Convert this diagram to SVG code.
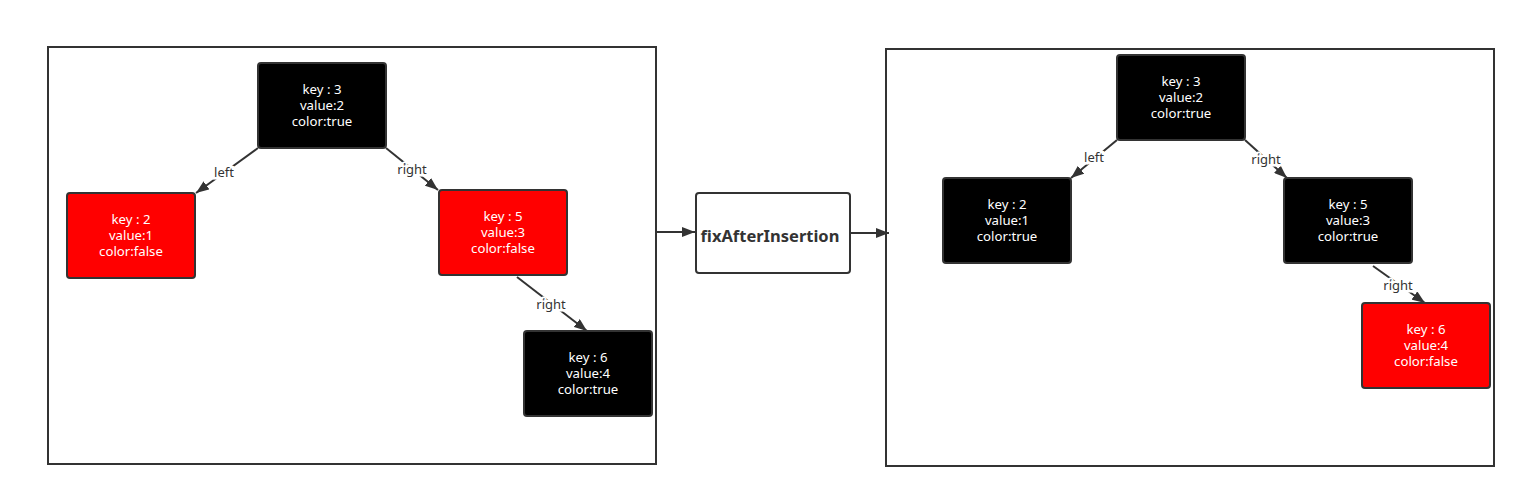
<svg xmlns="http://www.w3.org/2000/svg" width="1525" height="498" viewBox="0 0 1525 498">
<defs>
<marker id="arr" markerUnits="userSpaceOnUse" markerWidth="14" markerHeight="10" refX="13" refY="5" orient="auto">
<path d="M0,0 L13,5 L0,10 z" fill="#333"/>
</marker>
<style>
.frame{fill:#fff;stroke:#333;stroke-width:2}
.blk{fill:#000;stroke:#333;stroke-width:2}
.red{fill:#f00;stroke:#333;stroke-width:2}
.t{font-family:"Noto Sans","Open Sans",sans-serif;font-size:13.2px;fill:#fff;text-anchor:middle}
.edge{stroke:#333;stroke-width:2;fill:none;marker-end:url(#arr)}
.lbl{font-family:"Noto Sans","Open Sans",sans-serif;font-size:13px;fill:#333;text-anchor:middle;paint-order:stroke;stroke:#fff;stroke-width:5}
.fx{font-family:"Noto Sans","Open Sans",sans-serif;font-size:16.5px;font-weight:bold;fill:#333;text-anchor:middle}
</style>
</defs>
<rect width="1525" height="498" fill="#fff"/>
<g id="frame-left"><rect class="frame" x="48" y="47" width="608" height="417"/></g>
<g id="frame-right"><rect class="frame" x="886" y="49" width="608" height="417"/></g>

<g id="connectors">
<line class="edge" x1="258" y1="148" x2="196" y2="193"/>
<line class="edge" x1="386" y1="148" x2="438" y2="190"/>
<line class="edge" x1="517" y1="277" x2="587" y2="331"/>
<line class="edge" x1="657" y1="232" x2="695" y2="232"/>
<line class="edge" x1="851" y1="233" x2="889" y2="233"/>
<line class="edge" x1="1117" y1="140" x2="1071" y2="178"/>
<line class="edge" x1="1245" y1="140" x2="1287" y2="178"/>
<line class="edge" x1="1373" y1="266" x2="1425" y2="303"/>
<text class="lbl" x="224" y="177">left</text>
<text class="lbl" x="412" y="174">right</text>
<text class="lbl" x="551" y="309">right</text>
<text class="lbl" x="1094" y="162">left</text>
<text class="lbl" x="1266" y="164">right</text>
<text class="lbl" x="1398" y="290">right</text>
</g>

<g id="L3"><rect class="blk" x="258" y="63" width="128" height="85" rx="3"/>
<text class="t" x="322" y="94">key : 3</text><text class="t" x="322" y="110">value:2</text><text class="t" x="322" y="126">color:true</text></g>
<g id="L2"><rect class="red" x="67" y="193" width="128" height="85" rx="3"/>
<text class="t" x="131" y="224">key : 2</text><text class="t" x="131" y="240">value:1</text><text class="t" x="131" y="256">color:false</text></g>
<g id="L5"><rect class="red" x="439" y="190" width="128" height="85" rx="3"/>
<text class="t" x="503" y="221">key : 5</text><text class="t" x="503" y="237">value:3</text><text class="t" x="503" y="253">color:false</text></g>
<g id="L6"><rect class="blk" x="524" y="331" width="128" height="85" rx="3"/>
<text class="t" x="588" y="362">key : 6</text><text class="t" x="588" y="378">value:4</text><text class="t" x="588" y="394">color:true</text></g>

<g id="fix"><rect x="696" y="193" width="154" height="80" rx="3" fill="#fff" stroke="#333" stroke-width="2"/>
<text class="fx" x="770" y="242">fixAfterInsertion</text></g>

<g id="R3"><rect class="blk" x="1117" y="55" width="128" height="85" rx="3"/>
<text class="t" x="1181" y="86">key : 3</text><text class="t" x="1181" y="102">value:2</text><text class="t" x="1181" y="118">color:true</text></g>
<g id="R2"><rect class="blk" x="943" y="178" width="128" height="85" rx="3"/>
<text class="t" x="1007" y="209">key : 2</text><text class="t" x="1007" y="225">value:1</text><text class="t" x="1007" y="241">color:true</text></g>
<g id="R5"><rect class="blk" x="1284" y="178" width="128" height="85" rx="3"/>
<text class="t" x="1348" y="209">key : 5</text><text class="t" x="1348" y="225">value:3</text><text class="t" x="1348" y="241">color:true</text></g>
<g id="R6"><rect class="red" x="1362" y="303" width="128" height="85" rx="3"/>
<text class="t" x="1426" y="334">key : 6</text><text class="t" x="1426" y="350">value:4</text><text class="t" x="1426" y="366">color:false</text></g>
</svg>
